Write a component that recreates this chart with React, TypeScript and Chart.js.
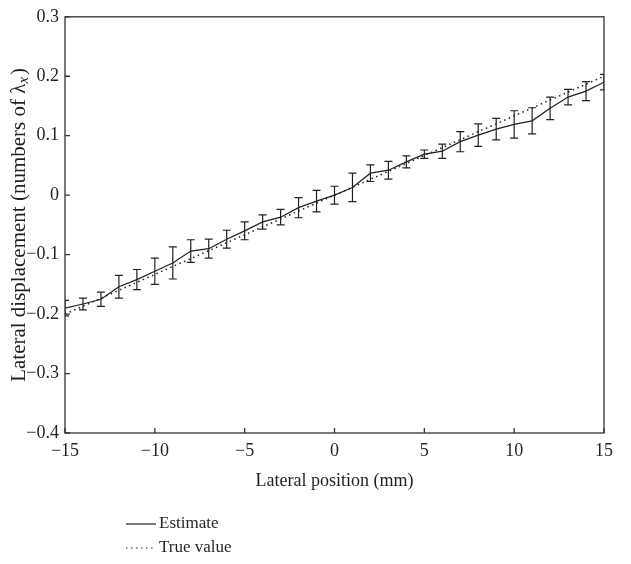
import React, { useEffect, useRef } from "react";
import { Chart, registerables } from "chart.js";

Chart.register(...registerables);

const positions = [-15, -14, -13, -12, -11, -10, -9, -8, -7, -6, -5, -4, -3, -2, -1, 0, 1, 2, 3, 4, 5, 6, 7, 8, 9, 10, 11, 12, 13, 14, 15];
const estimate = [-0.19, -0.183, -0.175, -0.154, -0.142, -0.128, -0.114, -0.094, -0.09, -0.074, -0.06, -0.045, -0.037, -0.021, -0.01, 0.0, 0.013, 0.037, 0.042, 0.056, 0.069, 0.074, 0.09, 0.101, 0.111, 0.119, 0.125, 0.146, 0.165, 0.175, 0.19];
const errors = [0.013, 0.01, 0.012, 0.019, 0.017, 0.022, 0.027, 0.019, 0.016, 0.015, 0.015, 0.012, 0.013, 0.017, 0.018, 0.015, 0.024, 0.014, 0.015, 0.01, 0.007, 0.012, 0.017, 0.019, 0.018, 0.023, 0.022, 0.019, 0.013, 0.016, 0.013];
const trueValue = [-0.2, -0.1867, -0.1733, -0.16, -0.1467, -0.1333, -0.12, -0.1067, -0.0933, -0.08, -0.0667, -0.0533, -0.04, -0.0267, -0.0133, 0, 0.0133, 0.0267, 0.04, 0.0533, 0.0667, 0.08, 0.0933, 0.1067, 0.12, 0.1333, 0.1467, 0.16, 0.1733, 0.1867, 0.2];
const xTicks = [-15, -10, -5, 0, 5, 10, 15];
const yTicks = [-0.4, -0.3, -0.2, -0.1, 0, 0.1, 0.2, 0.3];
const xTitle = "Lateral position (mm)";
const yTitleMain = "Lateral displacement (numbers of \u03bb";
const yTitleSub = "x";
const yTitleEnd = ")";
const legendLabels = ["Estimate", "True value"];

const FONT = "'Liberation Serif', 'Times New Roman', serif";
const INK = "#231f20";

const fmt = (v: number) => {
  if (Math.abs(v) < 1e-9) return "0";
  const s = Math.abs(v) % 1 === 0 ? Math.abs(v).toString() : Math.abs(v).toFixed(1);
  return v < 0 ? "\u2212" + s : s;
};

const decorPlugin = {
  id: "decor",
  afterDatasetsDraw(chart: any) {
    const { ctx, chartArea, scales } = chart;
    const xs = scales.x;
    const ys = scales.y;
    ctx.save();
    ctx.beginPath();
    ctx.rect(chartArea.left, chartArea.top, chartArea.right - chartArea.left, chartArea.bottom - chartArea.top);
    ctx.clip();
    ctx.strokeStyle = INK;
    ctx.lineWidth = 1.2;
    positions.forEach((p, i) => {
      const x = xs.getPixelForValue(p);
      const y1 = ys.getPixelForValue(estimate[i] + errors[i]);
      const y2 = ys.getPixelForValue(estimate[i] - errors[i]);
      ctx.beginPath();
      ctx.moveTo(x, y1);
      ctx.lineTo(x, y2);
      ctx.moveTo(x - 4, y1);
      ctx.lineTo(x + 4, y1);
      ctx.moveTo(x - 4, y2);
      ctx.lineTo(x + 4, y2);
      ctx.stroke();
    });
    ctx.restore();
  },
  afterDraw(chart: any) {
    const { ctx, chartArea, scales } = chart;
    const xs = scales.x;
    const ys = scales.y;
    const { left, right, top, bottom } = chartArea;
    ctx.save();
    ctx.strokeStyle = "#333";
    ctx.lineWidth = 1.3;
    ctx.strokeRect(left, top, right - left, bottom - top);
    ctx.beginPath();
    xTicks.forEach((t) => {
      const x = xs.getPixelForValue(t);
      ctx.moveTo(x, bottom);
      ctx.lineTo(x, bottom - 5);
    });
    yTicks.forEach((t) => {
      const y = ys.getPixelForValue(t);
      ctx.moveTo(left, y);
      ctx.lineTo(left + 5, y);
    });
    ctx.stroke();

    // x title
    ctx.fillStyle = INK;
    ctx.font = `18px ${FONT}`;
    ctx.textAlign = "center";
    ctx.textBaseline = "middle";
    ctx.fillText(xTitle, (left + right) / 2, 481);

    // y title with subscript
    ctx.save();
    ctx.translate(19, (top + bottom) / 2);
    ctx.rotate(-Math.PI / 2);
    ctx.font = `21px ${FONT}`;
    const w1 = ctx.measureText(yTitleMain).width;
    ctx.font = `italic 15px ${FONT}`;
    const w2 = ctx.measureText(yTitleSub).width;
    ctx.font = `21px ${FONT}`;
    const w3 = ctx.measureText(yTitleEnd).width;
    const total = w1 + w2 + 2 + w3;
    let cx = -total / 2;
    ctx.textAlign = "left";
    ctx.fillText(yTitleMain, cx, 0);
    cx += w1;
    ctx.font = `italic 15px ${FONT}`;
    ctx.fillText(yTitleSub, cx, 5);
    cx += w2 + 2;
    ctx.font = `21px ${FONT}`;
    ctx.fillText(yTitleEnd, cx, 0);
    ctx.restore();

    // legend
    ctx.strokeStyle = INK;
    ctx.lineWidth = 1.2;
    ctx.beginPath();
    ctx.moveTo(126, 524);
    ctx.lineTo(156, 524);
    ctx.stroke();
    ctx.setLineDash([1.5, 3.5]);
    ctx.beginPath();
    ctx.moveTo(126, 548);
    ctx.lineTo(156, 548);
    ctx.stroke();
    ctx.setLineDash([]);
    ctx.font = `17px ${FONT}`;
    ctx.textAlign = "left";
    ctx.textBaseline = "middle";
    ctx.fillText(legendLabels[0], 159, 524);
    ctx.fillText(legendLabels[1], 159, 548);
    ctx.restore();
  },
};

export default function App() {
  const ref = useRef<HTMLCanvasElement | null>(null);
  useEffect(() => {
    document.body.style.margin = "0";
    const canvas = ref.current;
    if (!canvas) return;
    const chart = new Chart(canvas, {
      type: "line",
      data: {
        datasets: [
          {
            label: legendLabels[0],
            data: positions.map((p, i) => ({ x: p, y: estimate[i] })),
            borderColor: INK,
            borderWidth: 1.2,
            pointRadius: 0,
            tension: 0,
            fill: false,
          },
          {
            label: legendLabels[1],
            data: positions.map((p, i) => ({ x: p, y: trueValue[i] })),
            borderColor: INK,
            borderWidth: 1.5,
            borderDash: [1.5, 3.5],
            pointRadius: 0,
            tension: 0,
            fill: false,
          },
        ],
      },
      options: {
        animation: false,
        responsive: false,
        events: [],
        layout: { padding: { top: 12, right: 27, left: 0, bottom: 0 } },
        plugins: { legend: { display: false }, tooltip: { enabled: false } },
        scales: {
          x: {
            type: "linear",
            min: -15,
            max: 15,
            grid: { display: false, drawTicks: false },
            border: { display: false },
            afterBuildTicks: (scale: any) => {
              scale.ticks = xTicks.map((v) => ({ value: v }));
            },
            afterFit: (scale: any) => {
              scale.height = 131;
            },
            ticks: {
              color: INK,
              font: { family: FONT, size: 18 },
              padding: 7,
              maxRotation: 0,
              callback: (v: any) => fmt(Number(v)),
            },
          },
          y: {
            type: "linear",
            min: -0.4,
            max: 0.3,
            grid: { display: false, drawTicks: false },
            border: { display: false },
            afterBuildTicks: (scale: any) => {
              scale.ticks = yTicks.map((v) => ({ value: v }));
            },
            afterFit: (scale: any) => {
              scale.width = 65;
            },
            ticks: {
              color: INK,
              font: { family: FONT, size: 18 },
              padding: 6,
              callback: (v: any) => fmt(Number(v)),
            },
          },
        },
      },
      plugins: [decorPlugin],
    });
    return () => chart.destroy();
  }, []);
  return (
    <div style={{ position: "relative", width: 631, height: 564, background: "#fff" }}>
      <canvas ref={ref} width={631} height={564} />
    </div>
  );
}
